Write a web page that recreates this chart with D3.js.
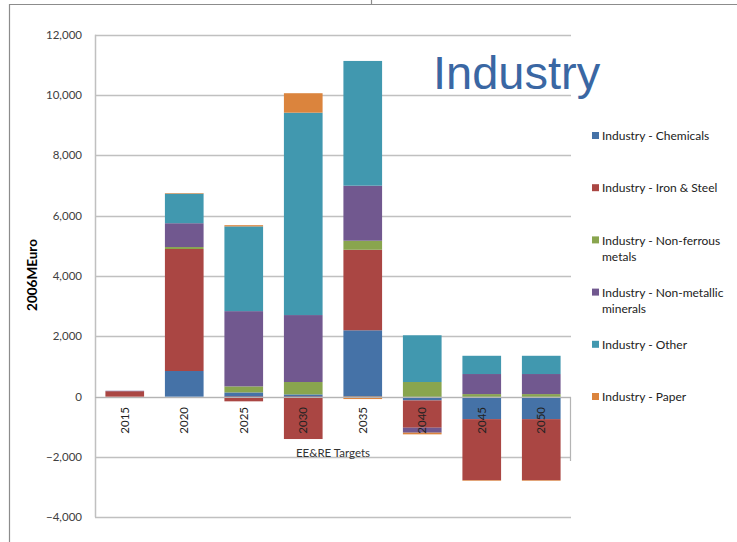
<!DOCTYPE html>
<html>
<head>
<meta charset="utf-8">
<script src="https://cdn.jsdelivr.net/npm/d3@7"></script>
<style>
  html, body { margin: 0; padding: 0; background: #fff; }
  svg { display: block; font-family: Lato, "Open Sans", sans-serif; }
</style>
</head>
<body>
<svg id="chart" width="737" height="542"></svg>
<script>
// Annual cost differences by industrial sub-sector (2006 MEuro)
const categories = ["2015", "2020", "2025", "2030", "2035", "2040", "2045", "2050"];
const seriesNames = [
  "Industry - Chemicals",
  "Industry - Iron & Steel",
  "Industry - Non-ferrous metals",
  "Industry - Non-metallic minerals",
  "Industry - Other",
  "Industry - Paper"
];
const chemicals   = [0, 850, 140, 75, 2200, -125, -745, -745];
const ironSteel   = [180, 4045, -155, -1405, 2670, -905, -2025, -2025];
const nonFerrous  = [0, 65, 200, 410, 300, 485, 85, 85];
const nonMetallic = [15, 790, 2495, 2220, 1825, -165, 665, 665];
const other       = [0, 980, 2810, 6710, 4135, 1550, 605, 605];
const paper       = [0, 20, 40, 645, -80, -55, -20, -20];
const yTicks = [-4000, -2000, 0, 2000, 4000, 6000, 8000, 10000, 12000];

const seriesValues = [chemicals, ironSteel, nonFerrous, nonMetallic, other, paper];
const colors = ["#4572A7", "#AA4643", "#89A54E", "#71588F", "#4198AF", "#DB843D"];

const rows = categories.map((c, i) => {
  const r = { year: c };
  seriesNames.forEach((n, s) => { r[n] = seriesValues[s][i]; });
  return r;
});

const svg = d3.select("#chart");

// outer frame
svg.append("path")
  .attr("d", "M9.5,542 V4.5 H737")
  .attr("fill", "none").attr("stroke", "#8c8c8c").attr("stroke-width", 1.2);
svg.append("line")
  .attr("x1", 371.5).attr("x2", 371.5).attr("y1", 0).attr("y2", 4.5)
  .attr("stroke", "#8c8c8c").attr("stroke-width", 1.2);

const left = 95, right = 571;
const x = d3.scaleBand().domain(categories).range([left, right])
  .paddingInner(0.35).paddingOuter(0.175);
const y = d3.scaleLinear().domain([-4000, 12000]).range([517.3, 34.7]);

// gridlines
svg.append("g").selectAll("line").data(yTicks).join("line")
  .attr("x1", left).attr("x2", right)
  .attr("y1", d => Math.round(y(d)) + 0.5).attr("y2", d => Math.round(y(d)) + 0.5)
  .attr("stroke", "#c0c0c0").attr("stroke-width", 1.5);

// value axis line
svg.append("line")
  .attr("x1", left + 0.5).attr("x2", left + 0.5)
  .attr("y1", y(12000)).attr("y2", y(-4000))
  .attr("stroke", "#c0c0c0").attr("stroke-width", 1.5);

// y tick labels
svg.append("g").selectAll("text").data(yTicks).join("text")
  .attr("x", 82).attr("y", d => y(d)).attr("dy", "0.35em")
  .attr("text-anchor", "end")
  .attr("font-size", 11.5).attr("fill", "#404040")
  .text(d => d3.format(",")(d));

// y axis title
svg.append("text")
  .attr("transform", `translate(37,${275}) rotate(-90)`)
  .attr("text-anchor", "middle")
  .attr("font-size", 13.5).attr("font-weight", "bold").attr("fill", "#000")
  .text("2006MEuro");

// stacked bars (positives stack up, negatives stack down)
const stack = d3.stack().keys(seriesNames).offset(d3.stackOffsetDiverging);
const layers = stack(rows);

svg.append("g").selectAll("g").data(layers).join("g")
  .attr("fill", (d, i) => colors[i])
  .selectAll("rect").data(d => d).join("rect")
  .attr("x", d => x(d.data.year))
  .attr("width", x.bandwidth())
  .attr("y", d => y(Math.max(d[0], d[1])))
  .attr("height", d => Math.abs(y(d[0]) - y(d[1])));

// category axis box at zero line
const y0 = Math.round(y(0)) + 0.5;
svg.append("path")
  .attr("d", `M${left},${y0} H${right - 0.5} V${461}`)
  .attr("fill", "none").attr("stroke", "#b4b4b4").attr("stroke-width", 1.2);

// category labels
svg.append("g").selectAll("text").data(categories).join("text")
  .attr("transform", d => `translate(${x(d) + x.bandwidth() / 2},407) rotate(-90)`)
  .attr("text-anchor", "end").attr("dy", "0.35em")
  .attr("font-size", 11.5).attr("fill", "#222")
  .text(d => d);

// category axis title
svg.append("text")
  .attr("x", 333).attr("y", 453).attr("dy", "0.35em")
  .attr("text-anchor", "middle")
  .attr("font-size", 11.5).attr("fill", "#333")
  .text("EE&RE Targets");

// chart title
svg.append("text")
  .attr("x", 433).attr("y", 89)
  .style("font-family", "'Liberation Sans', Arial, sans-serif")
  .attr("font-size", 47).attr("fill", "#3A67A3")
  .text("Industry");

// legend
const legendLines = [
  ["Industry - Chemicals"],
  ["Industry - Iron & Steel"],
  ["Industry - Non-ferrous", "metals"],
  ["Industry - Non-metallic", "minerals"],
  ["Industry - Other"],
  ["Industry - Paper"]
];
const lg = svg.append("g").selectAll("g").data(seriesNames).join("g")
  .attr("transform", (d, i) => `translate(592,${136 + i * 52.2})`);
lg.append("rect")
  .attr("x", 0).attr("y", -4).attr("width", 7).attr("height", 7)
  .attr("fill", (d, i) => colors[i]);
lg.append("text")
  .attr("x", 10).attr("y", 0)
  .attr("font-size", 12).attr("fill", "#222")
  .selectAll("tspan").data((d, i) => legendLines[i]).join("tspan")
  .attr("x", 10).attr("dy", (d, j) => j === 0 ? "0.35em" : "16px")
  .text(d => d);
</script>
</body>
</html>
